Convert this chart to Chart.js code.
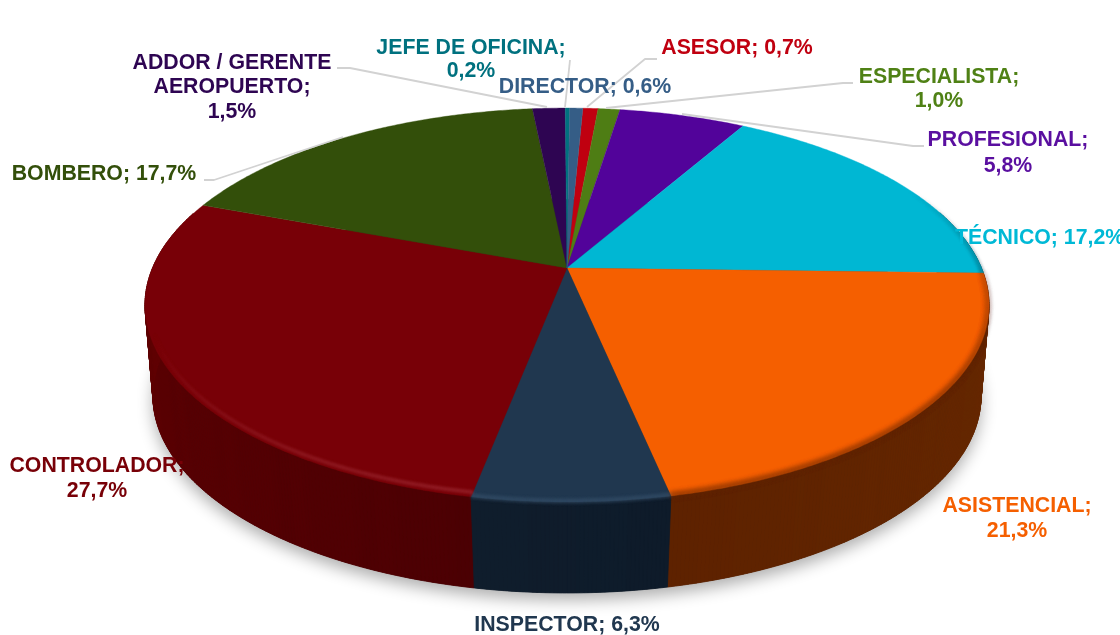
<!DOCTYPE html>
<html>
<head>
<meta charset="utf-8">
<style>html,body{margin:0;padding:0;background:#fff}canvas{display:block}</style>
<script src="https://cdn.jsdelivr.net/npm/chart.js@4"></script>
</head>
<body>
<canvas id="c" width="1120" height="635"></canvas>
<script>
// ---- data ----
const categories = ['ASESOR','ESPECIALISTA','PROFESIONAL','TÉCNICO','ASISTENCIAL','INSPECTOR','CONTROLADOR','BOMBERO','ADDOR / GERENTE AEROPUERTO','JEFE DE OFICINA','DIRECTOR'];
const percentages = [0.7,1.0,5.8,17.2,21.3,6.3,27.7,17.7,1.5,0.2,0.6];

// ---- styles ----
const topColors = ['#C00010','#4E7D14','#52039A','#00B7D3','#F55F00','#20374F','#780007','#334F0A','#2E0552','#00717F','#355D86'];
const textColors = ['#C00010','#4F8115','#5A0FA0','#00B9D6','#F55F00','#20374F','#780007','#334F0A','#2E0552','#00717F','#355D86'];
const wallColors = [['#700008','#700008'],['#2e4a0c','#2e4a0c'],['#300258','#300258'],['#006c7d','#006c7d'],['#682900','#5e2200'],['#0e1b2a','#0f1d2c'],['#4b0003','#640002'],['#1e2f06','#1e2f06'],['#1b0330','#1b0330'],['#00434b','#00434b'],['#1f374f','#1f374f']];
const rimColors = [null,null,null,'rgba(0,70,85,0.9)','rgba(98,36,0,0.95)','rgba(60,88,115,0.55)','rgba(170,55,65,0.75)',null,null,null,null];

// ---- layout (label lines: x, centre y; leaders: polyline) ----
const labelLayout = [
  {align:'center',lines:[['ASESOR; 0,7%',737,48]],leader:[[587,107],[645,59],[657,59]]},
  {align:'center',lines:[['ESPECIALISTA;',939,77],['1,0%',939,101]],leader:[[606,108],[843,83],[853,83]]},
  {align:'center',lines:[['PROFESIONAL;',1008,140],['5,8%',1008,166]],leader:[[682,114],[913,146],[924,146]]},
  {align:'left',lines:[['TÉCNICO; 17,2%',955,238]]},
  {align:'center',lines:[['ASISTENCIAL;',1017,506],['21,3%',1017,531]]},
  {align:'center',lines:[['INSPECTOR; 6,3%',567,625]]},
  {align:'center',lines:[['CONTROLADOR;',97,466],['27,7%',97,491]]},
  {align:'center',lines:[['BOMBERO; 17,7%',104,174]],leader:[[204,180],[214,180],[343,137]]},
  {align:'center',lines:[['ADDOR / GERENTE',232,63],['AEROPUERTO;',232,87],['1,5%',232,112]],leader:[[337,68],[350,68],[547,107]]},
  {align:'center',lines:[['JEFE DE OFICINA;',471,48],['0,2%',471,71]],leader:[[570,60],[565,107]]},
  {align:'center',lines:[['DIRECTOR; 0,6%',585,87]]}
];
const topDisc = {cx:567,cy:268,a:414.5,b:190,k:0.188};
const baseDisc = {cx:567,cy:362,a:407.8,b:191,k:0.173};
const STEP = Math.PI/360;

function project(d, ang){
  const x=Math.cos(ang), y=Math.sin(ang), w=1-d.k*y;
  return [d.cx+d.a*x/w, d.cy+d.b*y/w];
}
function hexRgb(h){return [1,3,5].map(i=>parseInt(h.substr(i,2),16));}
function mix(c1,c2,t){const a=hexRgb(c1),b=hexRgb(c2);return 'rgb('+a.map((v,i)=>Math.round(v+(b[i]-v)*t)).join(',')+')';}
function arcPoints(d,s,e){
  const pts=[], n=Math.max(1,Math.ceil((e-s)/STEP));
  for(let i=0;i<=n;i++) pts.push(project(d,s+(e-s)*i/n));
  return pts;
}

const pie3d = {
  id:'pie3d',
  beforeDatasetsDraw(chart){
    const ctx=chart.ctx, arcs=chart.getDatasetMeta(0).data;
    ctx.save();
    // soft cast shadow
    ctx.save();
    ctx.shadowColor='rgba(0,0,0,0.32)';ctx.shadowBlur=16;ctx.shadowOffsetY=7;ctx.fillStyle='#333';
    ctx.beginPath();
    arcPoints(baseDisc,0,Math.PI*2).forEach((p,i)=>i?ctx.lineTo(p[0],p[1]):ctx.moveTo(p[0],p[1]));
    ctx.closePath();ctx.fill();
    ctx.restore();
    // side walls, back to front
    const order=arcs.map((a,i)=>i).sort((p,q)=>Math.sin((arcs[p].startAngle+arcs[p].endAngle)/2)-Math.sin((arcs[q].startAngle+arcs[q].endAngle)/2));
    order.forEach(i=>{
      const s=arcs[i].startAngle,e=arcs[i].endAngle;
      const n=Math.max(1,Math.ceil((e-s)/STEP));
      for(let j=0;j<n;j++){
        const a0=s+(e-s)*j/n,a1=s+(e-s)*(j+1)/n;
        if(Math.sin(a1)<-0.3&&Math.sin(a0)<-0.3) continue;
        const p=project(topDisc,a0),q=project(topDisc,a1),r=project(baseDisc,a1),t=project(baseDisc,a0);
        const band=Math.floor(j/6)%2?0.04:0;
        const col=mix(wallColors[i][0],wallColors[i][1],Math.min(1,(j/n)+band));
        ctx.fillStyle=col;ctx.strokeStyle=col;ctx.lineWidth=0.8;
        ctx.beginPath();ctx.moveTo(p[0],p[1]);ctx.lineTo(q[0],q[1]);ctx.lineTo(r[0],r[1]);ctx.lineTo(t[0],t[1]);ctx.closePath();ctx.fill();ctx.stroke();
      }
    });
    // top faces
    arcs.forEach((arc,i)=>{
      ctx.fillStyle=topColors[i];ctx.strokeStyle=topColors[i];ctx.lineWidth=0.4;
      ctx.beginPath();ctx.moveTo(topDisc.cx,topDisc.cy);
      arcPoints(topDisc,arc.startAngle,arc.endAngle).forEach(p=>ctx.lineTo(p[0],p[1]));
      ctx.closePath();ctx.fill();ctx.stroke();
    });
    // bevel along the front rim
    arcs.forEach((arc,i)=>{
      if(!rimColors[i]) return;
      ctx.save();
      const s=arc.startAngle,e=arc.endAngle,n=Math.max(1,Math.ceil((e-s)/STEP));
      ctx.filter=i===4?'blur(2.4px)':'blur(1.8px)';ctx.lineCap='butt';
      for(let j=0;j<n;j++){
        const a0=s+(e-s)*j/n,a1=s+(e-s)*(j+1)/n;
        const sn=Math.sin(a0);
        const vis=Math.max(0,Math.min(1,i===6?sn*1.4-0.45:sn+0.45));
        if(vis<=0) continue;
        const p=project(topDisc,a0),q=project(topDisc,a1);
        const c=[topDisc.cx,topDisc.cy];
        const d=Math.hypot(p[0]-c[0],p[1]-c[1]);
        const inset=i===6?5:1;
        const f=(d-inset)/d;
        ctx.globalAlpha=vis;
        ctx.strokeStyle=rimColors[i];ctx.lineWidth=i===6?3:(i===5?5:4.5);
        ctx.beginPath();
        ctx.moveTo(c[0]+(p[0]-c[0])*f,c[1]+(p[1]-c[1])*f);
        ctx.lineTo(c[0]+(q[0]-c[0])*f,c[1]+(q[1]-c[1])*f);
        ctx.stroke();
      }
      ctx.restore();
    });
    ctx.restore();
    return false;
  },
  afterDraw(chart){
    const ctx=chart.ctx;
    ctx.save();
    // leaders
    ctx.strokeStyle='#d2d2d2';ctx.lineWidth=1.8;ctx.lineJoin='round';
    labelLayout.forEach(l=>{
      if(!l.leader) return;
      ctx.beginPath();l.leader.forEach((p,i)=>i?ctx.lineTo(p[0],p[1]):ctx.moveTo(p[0],p[1]));ctx.stroke();
    });
    // labels
    ctx.font='bold 21.3px "Liberation Sans", Arial, sans-serif';
    ctx.textBaseline='middle';
    labelLayout.forEach((l,i)=>{
      ctx.fillStyle=textColors[i];ctx.textAlign=l.align;
      l.lines.forEach(t=>ctx.fillText(t[0],t[1],t[2]));
    });
    ctx.restore();
  }
};

new Chart(document.getElementById('c'),{
  type:'pie',
  data:{labels:categories,datasets:[{data:percentages,backgroundColor:topColors,borderWidth:0}]},
  options:{
    responsive:false,animation:false,rotation:2.6,
    plugins:{legend:{display:false},tooltip:{enabled:false},title:{display:false}}
  },
  plugins:[pie3d]
});
</script>
</body>
</html>
